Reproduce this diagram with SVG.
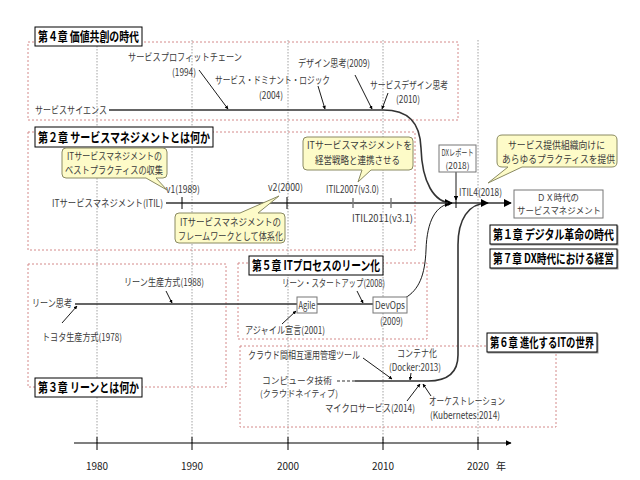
<svg xmlns="http://www.w3.org/2000/svg" width="640" height="480" viewBox="0 0 640 480">
<defs>
<marker id="ah" viewBox="0 0 10 10" refX="9" refY="5" markerWidth="5" markerHeight="5" orient="auto"><path d="M0,0 L10,5 L0,10 z" fill="#000"/></marker>
<marker id="as" viewBox="0 0 10 10" refX="9" refY="5" markerWidth="4" markerHeight="4" orient="auto"><path d="M0,0 L10,5 L0,10 z" fill="#000"/></marker>
<filter id="sh" x="-5%" y="-10%" width="110%" height="130%"><feDropShadow dx="1" dy="1" stdDeviation="0.6" flood-color="#000" flood-opacity="0.4"/></filter>
</defs>
<style>
text{font-family:"Noto Sans CJK JP","Noto Sans",sans-serif;font-size:10px;fill:#3a3a3a}
.ch{font-weight:bold;font-size:13px;fill:#000}
.chb{fill:#fff;stroke:#000;stroke-width:1}
.area{fill:none;stroke:#d48a8a;stroke-width:1;stroke-dasharray:2,2}
.grid{stroke:#8a8a8a;stroke-width:0.8;stroke-dasharray:1.5,1.5}
.main{fill:none;stroke:#333;stroke-width:1.6}
.thin{fill:none;stroke:#000;stroke-width:0.9}
.call{fill:#fdfbc8;stroke:#8a8a62;stroke-width:1}
.box{fill:#fff;stroke:#777;stroke-width:1}
.yr{font-size:10px;fill:#222}
.s9{font-size:9px}
.c{text-anchor:middle}
</style>
<rect width="640" height="480" fill="#fff"/>
<g id="grid">
<line class="grid" x1="97" y1="40" x2="97" y2="443"/>
<line class="grid" x1="192" y1="40" x2="192" y2="443"/>
<line class="grid" x1="288" y1="40" x2="288" y2="443"/>
<line class="grid" x1="383" y1="40" x2="383" y2="443"/>
<line class="grid" x1="478" y1="40" x2="478" y2="443"/>
</g>
<g id="areas">
<rect class="area" x="28" y="42" width="430" height="78"/>
<rect class="area" x="28" y="132" width="387" height="118"/>
<rect class="area" x="28" y="264" width="198" height="123"/>
<rect class="area" x="238" y="263" width="189" height="76"/>
<rect class="area" x="240" y="346" width="316" height="81"/>
</g>
<g id="axis">
<line x1="74" y1="443" x2="511" y2="443" stroke="#000" stroke-width="1.2" marker-end="url(#ah)"/>
<g stroke="#000" stroke-width="1">
<line x1="97" y1="437" x2="97" y2="450"/><line x1="192" y1="437" x2="192" y2="450"/><line x1="288" y1="437" x2="288" y2="450"/><line x1="383" y1="437" x2="383" y2="450"/><line x1="478" y1="437" x2="478" y2="450"/>
</g>
<text class="yr c" x="97" y="470">1980</text>
<text class="yr c" x="192" y="470">1990</text>
<text class="yr c" x="288" y="470">2000</text>
<text class="yr c" x="383" y="470">2010</text>
<text class="yr c" x="478" y="470">2020</text>
<text class="yr" x="496" y="470">年</text>
</g>
<g id="connectors">
<path class="main" d="M109,110 H383 C408,110 420,122 421,148 C422,182 434,203 452,203" marker-end="url(#ah)"/>
<line class="main" x1="166" y1="203" x2="511" y2="203" stroke="#000" marker-end="url(#ah)"/>
<path class="main" d="M75,304 H297 M317,304 H373"/>
<path class="thin" d="M405,298 C419,290 425,275 426,250 C427,220 436,205 452,203" stroke-width="1.1" marker-end="url(#ah)"/>
<path class="main" d="M355,381 H428 C448,381 458,372 458,355 V245 C458,220 468,203 488,203" stroke="#000" stroke-width="1.1" marker-end="url(#ah)"/>
<line x1="337" y1="381" x2="355" y2="381" stroke="#333" stroke-width="1.2" stroke-dasharray="3,2"/>
<line class="thin" x1="456" y1="172" x2="456" y2="200" marker-end="url(#ah)"/>
<g stroke="#000" stroke-width="1"><line x1="182" y1="197" x2="182" y2="209"/><line x1="287" y1="197" x2="287" y2="209"/><line x1="456" y1="198" x2="456" y2="208"/></g>
<g stroke="#777" stroke-width="1.4"><line x1="353" y1="198" x2="353" y2="208"/><line x1="391" y1="198" x2="391" y2="208"/></g>
<line class="thin" x1="199" y1="70" x2="228" y2="109" marker-end="url(#as)"/>
<line class="thin" x1="318" y1="86" x2="325" y2="109" marker-end="url(#as)"/>
<line class="thin" x1="355" y1="75" x2="372" y2="109" marker-end="url(#as)"/>
<line class="thin" x1="388" y1="93" x2="382" y2="109" marker-end="url(#as)"/>
<line class="thin" x1="62" y1="323" x2="77" y2="306" marker-end="url(#as)"/>
<line class="thin" x1="166" y1="291" x2="172" y2="303" marker-end="url(#as)"/>
<line class="thin" x1="357" y1="291" x2="363" y2="303" marker-end="url(#as)"/>
<line class="thin" x1="282" y1="324" x2="296" y2="311" marker-end="url(#as)"/>
<line class="thin" x1="363" y1="358" x2="392" y2="379" marker-end="url(#as)"/>
<line class="thin" x1="411" y1="373" x2="410" y2="380" marker-end="url(#as)"/>
<line class="thin" x1="407" y1="401" x2="420" y2="384" marker-end="url(#as)"/>
<line class="thin" x1="431" y1="396" x2="423" y2="384" marker-end="url(#as)"/>
</g>
<g id="ch4"><rect class="chb" x="35" y="27" width="107" height="19"/><text class="ch" x="38" y="41" textLength="101" lengthAdjust="spacingAndGlyphs">第４章 価値共創の時代</text></g>
<g id="ch2"><rect class="chb" x="35" y="127" width="178" height="20"/><text class="ch" x="38" y="142" textLength="172" lengthAdjust="spacingAndGlyphs">第２章 サービスマネジメントとは何か</text></g>
<g id="ch3"><rect class="chb" x="35" y="378" width="107" height="19"/><text class="ch" x="38" y="392" textLength="101" lengthAdjust="spacingAndGlyphs">第３章 リーンとは何か</text></g>
<g id="ch5"><rect class="chb" x="249" y="256" width="134" height="19"/><text class="ch" x="252" y="270" textLength="128" lengthAdjust="spacingAndGlyphs">第５章 ITプロセスのリーン化</text></g>
<g id="ch6"><rect class="chb" x="487" y="333" width="110" height="19" filter="url(#sh)"/><text class="ch" x="490" y="347" textLength="104" lengthAdjust="spacingAndGlyphs">第６章 進化するITの世界</text></g>
<g id="ch1"><rect class="chb" x="490" y="225" width="127" height="19" filter="url(#sh)"/><text class="ch" transform="translate(493,239) scale(0.76,1)" x="0" y="0" textLength="159" lengthAdjust="spacingAndGlyphs">第１章 デジタル革命の時代</text></g>
<g id="ch7"><rect class="chb" x="490" y="249" width="127" height="19" filter="url(#sh)"/><text class="ch" transform="translate(493,263) scale(0.76,1)" x="0" y="0" textLength="159" lengthAdjust="spacingAndGlyphs">第７章 DX時代における経営</text></g>
<g id="service-science">
<text x="35" y="114" textLength="72" lengthAdjust="spacingAndGlyphs">サービスサイエンス</text>
<text x="128" y="61" textLength="114" lengthAdjust="spacingAndGlyphs">サービスプロフィットチェーン</text>
<text x="172" y="76" textLength="24" lengthAdjust="spacingAndGlyphs">(1994)</text>
<text x="215" y="84" textLength="115" lengthAdjust="spacingAndGlyphs">サービス・ドミナント・ロジック</text>
<text x="259" y="99" textLength="24" lengthAdjust="spacingAndGlyphs">(2004)</text>
<text x="298" y="67" textLength="72" lengthAdjust="spacingAndGlyphs">デザイン思考(2009)</text>
<text x="370" y="89" textLength="78" lengthAdjust="spacingAndGlyphs">サービスデザイン思考</text>
<text x="396" y="103" textLength="24" lengthAdjust="spacingAndGlyphs">(2010)</text>
</g>
<g id="itil">
<text x="52" y="207" textLength="111" lengthAdjust="spacingAndGlyphs">ITサービスマネジメント(ITIL)</text>
<text x="166" y="193" textLength="34" lengthAdjust="spacingAndGlyphs">v1(1989)</text>
<text x="268" y="191" textLength="35" lengthAdjust="spacingAndGlyphs">v2(2000)</text>
<text x="326" y="193" textLength="53" lengthAdjust="spacingAndGlyphs">ITIL2007(v3.0)</text>
<text x="352" y="222" textLength="61" lengthAdjust="spacingAndGlyphs">ITIL2011(v3.1)</text>
<text x="459" y="196" textLength="43" lengthAdjust="spacingAndGlyphs">ITIL4(2018)</text>
</g>
<g id="callout1">
<path class="call" d="M66,148 H163 Q167,148 167,152 V174 Q167,178 163,178 H156 L167,190 L146,178 H66 Q62,178 62,174 V152 Q62,148 66,148 Z"/>
<text x="67" y="160" textLength="95" lengthAdjust="spacingAndGlyphs">ITサービスマネジメントの</text>
<text x="65" y="174" textLength="98" lengthAdjust="spacingAndGlyphs">ベストプラクティスの収集</text>
</g>
<g id="callout2">
<path class="call" d="M179,213 H240 L279,196 L258,213 H281 Q285,213 285,217 V239 Q285,243 281,243 H179 Q175,243 175,239 V217 Q175,213 179,213 Z"/>
<text x="180" y="226" textLength="101" lengthAdjust="spacingAndGlyphs">ITサービスマネジメントの</text>
<text x="178" y="240" textLength="105" lengthAdjust="spacingAndGlyphs">フレームワークとして体系化</text>
</g>
<g id="callout3">
<path class="call" d="M307,137 H409 Q413,137 413,141 V166 Q413,170 409,170 H371 L358,182 L362,170 H307 Q303,170 303,166 V141 Q303,137 307,137 Z"/>
<text x="307" y="149" textLength="105" lengthAdjust="spacingAndGlyphs">ITサービスマネジメントを</text>
<text x="315" y="164" textLength="85" lengthAdjust="spacingAndGlyphs">経営戦略と連携させる</text>
</g>
<g id="callout4">
<path class="call" d="M502,135 H612 Q617,135 617,140 V162 Q617,167 612,167 H522 L488,183 L508,167 H502 Q497,167 497,162 V140 Q497,135 502,135 Z"/>
<text x="508" y="149" textLength="97" lengthAdjust="spacingAndGlyphs">サービス提供組織向けに</text>
<text x="502" y="163" textLength="113" lengthAdjust="spacingAndGlyphs">あらゆるプラクティスを提供</text>
</g>
<g id="dx-report">
<rect class="box" x="439" y="145" width="37" height="27"/>
<text class="c s9" x="457.5" y="156" textLength="32" lengthAdjust="spacingAndGlyphs">DXレポート</text>
<text class="c s9" x="457.5" y="169" textLength="24" lengthAdjust="spacingAndGlyphs">(2018)</text>
</g>
<g id="dx-service">
<rect class="box" x="514" y="190" width="89" height="28"/>
<text class="c s9" x="558" y="201" textLength="42" lengthAdjust="spacingAndGlyphs">ＤＸ時代の</text>
<text class="c s9" x="559" y="214" textLength="84" lengthAdjust="spacingAndGlyphs">サービスマネジメント</text>
</g>
<g id="lean">
<text x="32" y="307" textLength="40" lengthAdjust="spacingAndGlyphs">リーン思考</text>
<text x="42" y="341" textLength="80" lengthAdjust="spacingAndGlyphs">トヨタ生産方式(1978)</text>
<text x="124" y="286" textLength="80" lengthAdjust="spacingAndGlyphs">リーン生産方式(1988)</text>
</g>
<g id="lean-it">
<text x="282" y="287" textLength="103" lengthAdjust="spacingAndGlyphs">リーン・スタートアップ(2008)</text>
<text x="245" y="334" textLength="80" lengthAdjust="spacingAndGlyphs">アジャイル宣言(2001)</text>
</g>
<g id="agile"><rect class="box" x="297" y="297" width="20" height="16"/><text class="c" x="307" y="308.5" textLength="17" lengthAdjust="spacingAndGlyphs">Agile</text></g>
<g id="devops"><rect class="box" x="373" y="297" width="34" height="16"/><text class="c" x="390" y="308.5" textLength="30" lengthAdjust="spacingAndGlyphs">DevOps</text><text class="c" x="391.5" y="325" textLength="23" lengthAdjust="spacingAndGlyphs">(2009)</text></g>
<g id="cloud">
<text x="248" y="359" textLength="112" lengthAdjust="spacingAndGlyphs">クラウド間相互運用管理ツール</text>
<text x="397" y="357" textLength="40" lengthAdjust="spacingAndGlyphs">コンテナ化</text>
<text x="389" y="371" textLength="52" lengthAdjust="spacingAndGlyphs">(Docker:2013)</text>
<text class="s9" x="262" y="384" textLength="70" lengthAdjust="spacingAndGlyphs">コンピュータ技術</text>
<text class="s9" x="260" y="397" textLength="78" lengthAdjust="spacingAndGlyphs">(クラウドネイティブ)</text>
<text x="325" y="412" textLength="90" lengthAdjust="spacingAndGlyphs">マイクロサービス(2014)</text>
<text x="429" y="405" textLength="76" lengthAdjust="spacingAndGlyphs">オーケストレーション</text>
<text x="430" y="419" textLength="70" lengthAdjust="spacingAndGlyphs">(Kubernetes:2014)</text>
</g>
</svg>
